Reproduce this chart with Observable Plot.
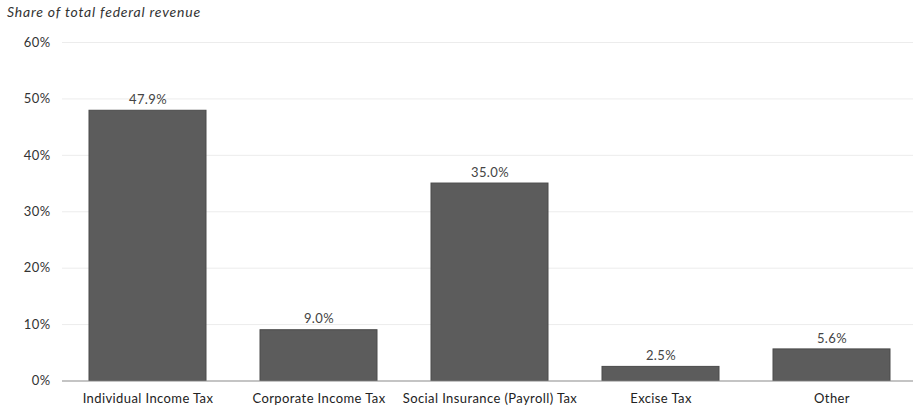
<!DOCTYPE html>
<html>
<head>
<meta charset="utf-8">
<script src="https://cdn.jsdelivr.net/npm/d3@7"></script>
<script src="https://cdn.jsdelivr.net/npm/@observablehq/plot@0.6"></script>
<style>
  body { margin: 0; background: #fff; font-family: Lato, "Noto Sans", sans-serif; }
  #title { height: 24px; font-style: italic; font-size: 14px; letter-spacing: 0.8px; color: #333; padding-left: 7px; line-height: 24px; }
  #chart svg { display: block; }
  #chart svg text { letter-spacing: 0.4px; }
</style>
</head>
<body>
<div id="title">Share of total federal revenue</div>
<div id="chart"></div>
<script>
const categories = ["Individual Income Tax", "Corporate Income Tax", "Social Insurance (Payroll) Tax", "Excise Tax", "Other"];
const shares = [47.9, 9.0, 35.0, 2.5, 5.6];
const yTicks = [0, 10, 20, 30, 40, 50, 60];

const data = categories.map((c, i) => ({category: c, share: shares[i]}));

const chart = Plot.plot({
  width: 913,
  height: 384,
  marginLeft: 62,
  marginRight: 0,
  marginTop: 18,
  marginBottom: 27.5,
  style: { fontFamily: "Lato, 'Noto Sans', sans-serif", fontSize: "13px", color: "#333", background: "#fff" },
  x: { domain: categories, range: [62, 917.5], paddingInner: 0.316, paddingOuter: 0.158, label: null },
  y: { domain: [0, 60], label: null },
  marks: [
    Plot.ruleY(yTicks.filter(d => d > 0), { stroke: "#ececec", strokeWidth: 1 }),
    Plot.axisY(yTicks, { tickSize: 0, tickPadding: 12, tickFormat: d => d + "%", fontSize: 13, fill: "#333", label: null }),
    Plot.axisX({ tickSize: 0, tickPadding: 13, fontSize: 13, fill: "#222", label: null }),
    Plot.barY(data, { x: "category", y: "share", fill: "#5c5c5c", stroke: "#4a4a4a", strokeWidth: 1 }),
    Plot.ruleY([0], { stroke: "#8a8a8a", strokeWidth: 1.2 }),
    Plot.text(data, { x: "category", y: "share", text: d => d.share.toFixed(1) + "%", dy: -11, fontSize: 13, fill: "#444" })
  ]
});
document.getElementById("chart").appendChild(chart);
</script>
</body>
</html>
